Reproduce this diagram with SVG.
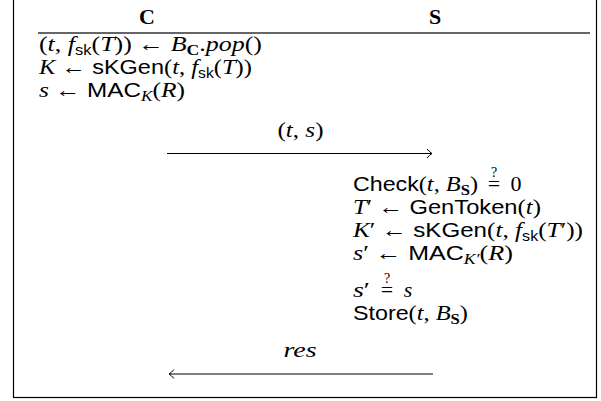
<svg xmlns="http://www.w3.org/2000/svg" width="601" height="401" viewBox="0 0 601 401">
<style>
text{font-family:"Liberation Serif","Times New Roman",serif;font-size:22px;fill:#000}
.i{font-style:italic}
.s{font-family:"Liberation Sans",Arial,sans-serif;font-size:21px}
.sub{font-size:15px}
.subs{font-family:"Liberation Sans",Arial,sans-serif;font-size:14px}
.b{font-weight:bold}
.h{font-weight:bold;font-size:22px}
.q{font-size:14px}
.ln{stroke:#000;stroke-width:1.1;fill:none}
</style>
<defs>
<marker id="ah" markerUnits="userSpaceOnUse" markerWidth="12" markerHeight="12" refX="0" refY="0" viewBox="-8 -6 10 12" orient="auto">
<path d="M-5,-4.5 Q-2,-1 0,0 Q-2,1 -5,4.5" fill="none" stroke="#000" stroke-width="1"/>
</marker>
</defs>
<rect x="13.5" y="-2" width="583" height="399.5" fill="#fff" stroke="#000" stroke-width="1.2"/>
<g id="headers">
<text class="h" x="147" y="24" text-anchor="middle">C</text>
<text class="h" x="435" y="24" text-anchor="middle">S</text>
<line x1="38" y1="33" x2="590" y2="33" stroke="#333" stroke-width="1.3"/>
</g>
<g id="client">
<text x="39" y="51" textLength="223" lengthAdjust="spacingAndGlyphs">(<tspan class="i">t</tspan>, <tspan class="i">f</tspan><tspan class="subs" dy="4">sk</tspan><tspan dy="-4">(</tspan><tspan class="i">T</tspan>)) ← <tspan class="i">B</tspan><tspan class="sub b" dy="4">C</tspan><tspan dy="-4">.</tspan><tspan class="i">pop</tspan>()</text>
<text x="39" y="74" textLength="213" lengthAdjust="spacingAndGlyphs"><tspan class="i">K</tspan> ← <tspan class="s">sKGen</tspan>(<tspan class="i">t</tspan>, <tspan class="i">f</tspan><tspan class="subs" dy="4">sk</tspan><tspan dy="-4">(</tspan><tspan class="i">T</tspan>))</text>
<text x="39" y="97" textLength="146" lengthAdjust="spacingAndGlyphs"><tspan class="i">s</tspan> ← <tspan class="s">MAC</tspan><tspan class="sub i" dy="4">K</tspan><tspan dy="-4">(</tspan><tspan class="i">R</tspan>)</text>
</g>
<g id="server">
<text x="353" y="191" textLength="125" lengthAdjust="spacingAndGlyphs"><tspan class="s">Check</tspan>(<tspan class="i">t</tspan>, <tspan class="i">B</tspan><tspan class="sub b" dy="4">S</tspan><tspan dy="-4">)</tspan></text>
<text x="494" y="191" text-anchor="middle">=</text>
<text class="q" x="494" y="177" text-anchor="middle">?</text>
<text x="516" y="191" text-anchor="middle">0</text>
<text x="353" y="214" textLength="188" lengthAdjust="spacingAndGlyphs"><tspan class="i">T</tspan>′ ← <tspan class="s">GenToken</tspan>(<tspan class="i">t</tspan>)</text>
<text x="353" y="237" textLength="230" lengthAdjust="spacingAndGlyphs"><tspan class="i">K</tspan>′ ← <tspan class="s">sKGen</tspan>(<tspan class="i">t</tspan>, <tspan class="i">f</tspan><tspan class="subs" dy="4">sk</tspan><tspan dy="-4">(</tspan><tspan class="i">T</tspan>′))</text>
<text x="353" y="260" textLength="160" lengthAdjust="spacingAndGlyphs"><tspan class="i">s</tspan>′ ← <tspan class="s">MAC</tspan><tspan class="sub i" dy="4">K′</tspan><tspan dy="-4">(</tspan><tspan class="i">R</tspan>)</text>
<text x="353" y="297" textLength="17" lengthAdjust="spacingAndGlyphs"><tspan class="i">s</tspan>′</text>
<text x="387" y="297" text-anchor="middle">=</text>
<text class="q" x="387" y="283" text-anchor="middle">?</text>
<text class="i" x="408" y="297" text-anchor="middle">s</text>
<text x="353" y="320" textLength="115" lengthAdjust="spacingAndGlyphs"><tspan class="s">Store</tspan>(<tspan class="i">t</tspan>, <tspan class="i">B</tspan><tspan class="sub b" dy="4">S</tspan><tspan dy="-4">)</tspan></text>
</g>
<g id="connectors">
<line class="ln" x1="167" y1="153.5" x2="432" y2="153.5" marker-end="url(#ah)"/>
<text x="300.5" y="137" text-anchor="middle" textLength="46" lengthAdjust="spacingAndGlyphs">(<tspan class="i">t</tspan>, <tspan class="i">s</tspan>)</text>
<line class="ln" x1="433" y1="374" x2="169" y2="374" marker-end="url(#ah)"/>
<text class="i" x="300" y="357" text-anchor="middle" textLength="33" lengthAdjust="spacingAndGlyphs">res</text>
</g>
</svg>
